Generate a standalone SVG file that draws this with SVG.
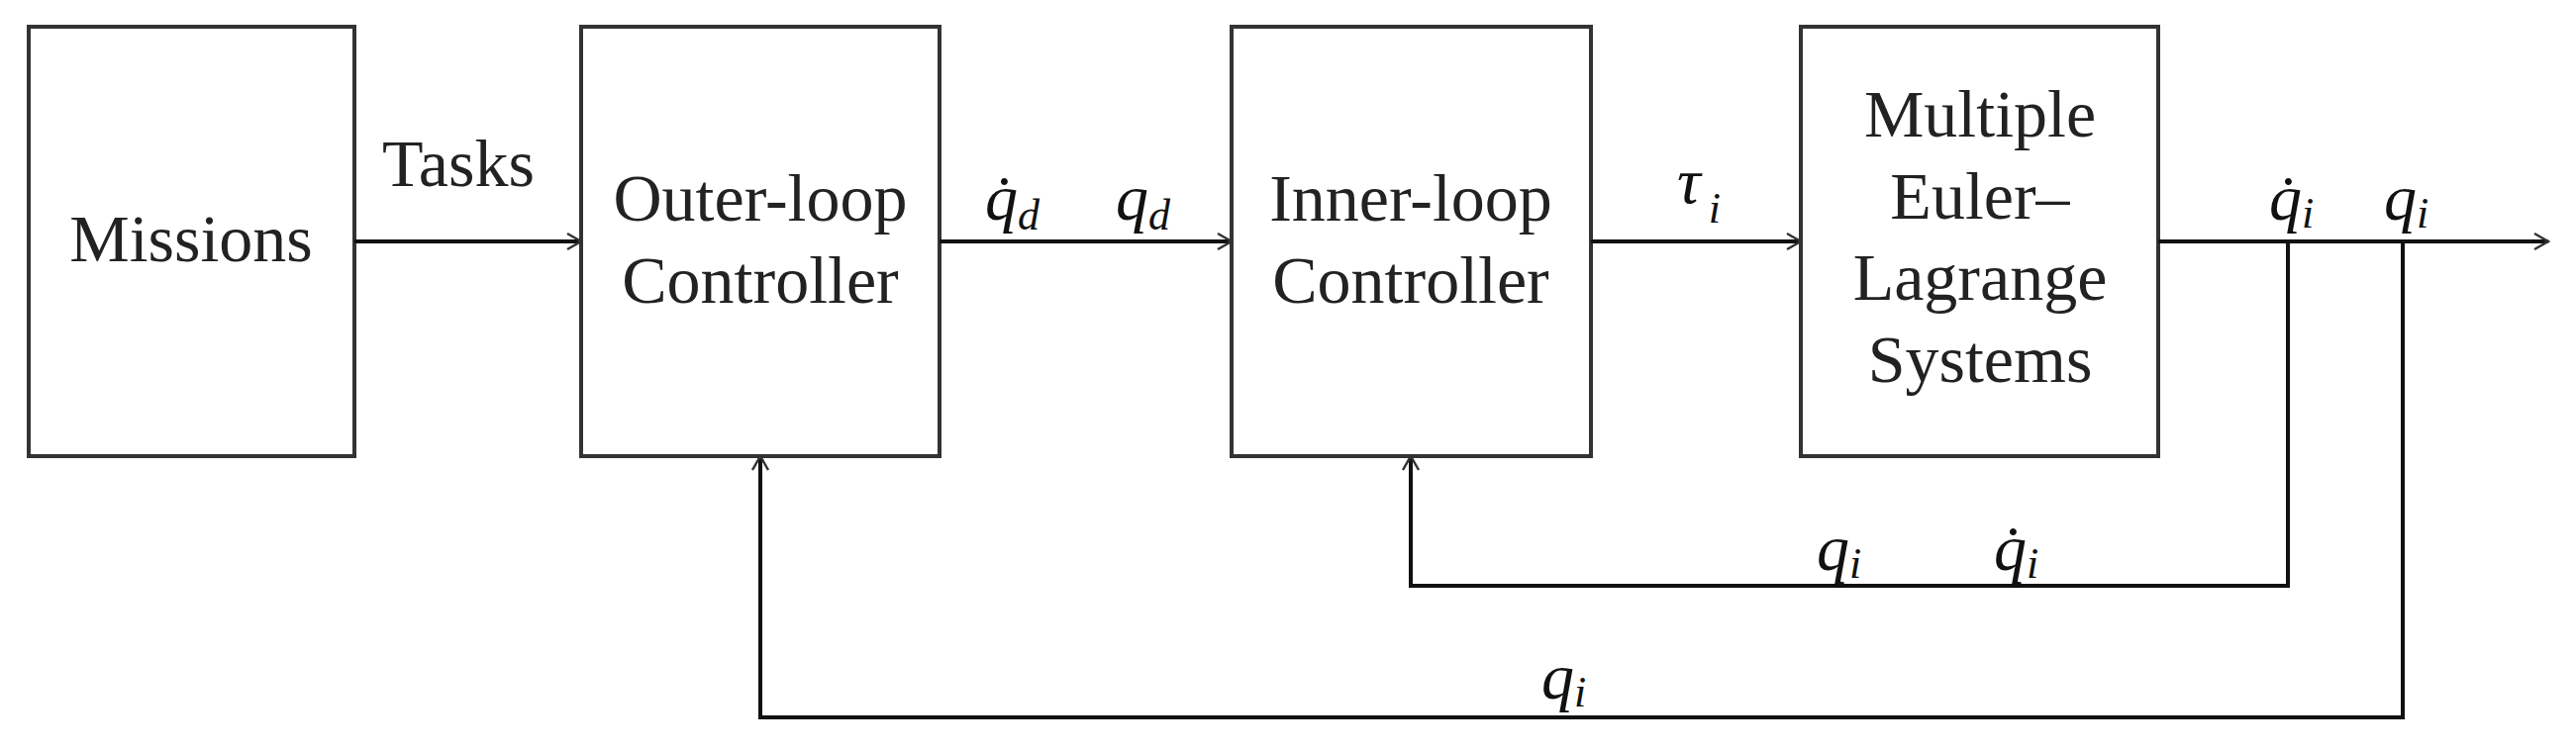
<svg xmlns="http://www.w3.org/2000/svg" width="2602" height="761" viewBox="0 0 2602 761">
<style>
.box{fill:#fff;stroke:#333;stroke-width:4}
.t{font-family:"Liberation Serif",serif;font-size:68px;fill:#222;text-anchor:middle}
.m{font-family:"Liberation Serif",serif;font-style:italic;font-size:66px;fill:#111}
.s{font-size:44px}
.ln{fill:none;stroke:#111;stroke-width:4}
</style>
<defs>
<marker id="ah" markerWidth="20" markerHeight="20" refX="18" refY="10" orient="auto" markerUnits="userSpaceOnUse">
<path d="M4,2 L18,10 L4,18" fill="none" stroke="#333" stroke-width="2.5"/>
</marker>
</defs>
<g id="missions"><rect class="box" x="29" y="27" width="329" height="434"/><text class="t" x="193" y="264">Missions</text></g>
<g id="outer"><rect class="box" x="587" y="27" width="362" height="434"/><text class="t" x="768" y="223">Outer-loop</text><text class="t" x="768" y="306">Controller</text></g>
<g id="inner"><rect class="box" x="1244" y="27" width="363" height="434"/><text class="t" x="1425" y="223">Inner-loop</text><text class="t" x="1425" y="306">Controller</text></g>
<g id="mels"><rect class="box" x="1819" y="27" width="361" height="434"/><text class="t" x="2000" y="138">Multiple</text><text class="t" x="2000" y="221">Euler–</text><text class="t" x="2000" y="303">Lagrange</text><text class="t" x="2000" y="386">Systems</text></g>
<g id="connectors">
<path class="ln" d="M358,244 H587" marker-end="url(#ah)"/>
<path class="ln" d="M949,244 H1244" marker-end="url(#ah)"/>
<path class="ln" d="M1607,244 H1819" marker-end="url(#ah)"/>
<path class="ln" d="M2180,244 H2574" marker-end="url(#ah)"/>
<path class="ln" d="M2311,244 V592 H1425 V461" marker-end="url(#ah)"/>
<path class="ln" d="M2427,244 V725 H768 V461" marker-end="url(#ah)"/>
</g>
<g id="labels">
<text class="t" x="463" y="188">Tasks</text>
<text class="m" x="995" y="222">q̇<tspan class="s" dy="10">d</tspan></text>
<text class="m" x="1127" y="222">q<tspan class="s" dy="10">d</tspan></text>
<text class="m" x="1694" y="205">τ<tspan class="s" dx="8" dy="20">i</tspan></text>
<text class="m" x="2292" y="222">q̇<tspan class="s" dy="8">i</tspan></text>
<text class="m" x="2408" y="222">q<tspan class="s" dy="8">i</tspan></text>
<text class="m" x="1835" y="576">q<tspan class="s" dy="8">i</tspan></text>
<text class="m" x="2014" y="576">q̇<tspan class="s" dy="8">i</tspan></text>
<text class="m" x="1557" y="706">q<tspan class="s" dy="8">i</tspan></text>
</g>
</svg>
